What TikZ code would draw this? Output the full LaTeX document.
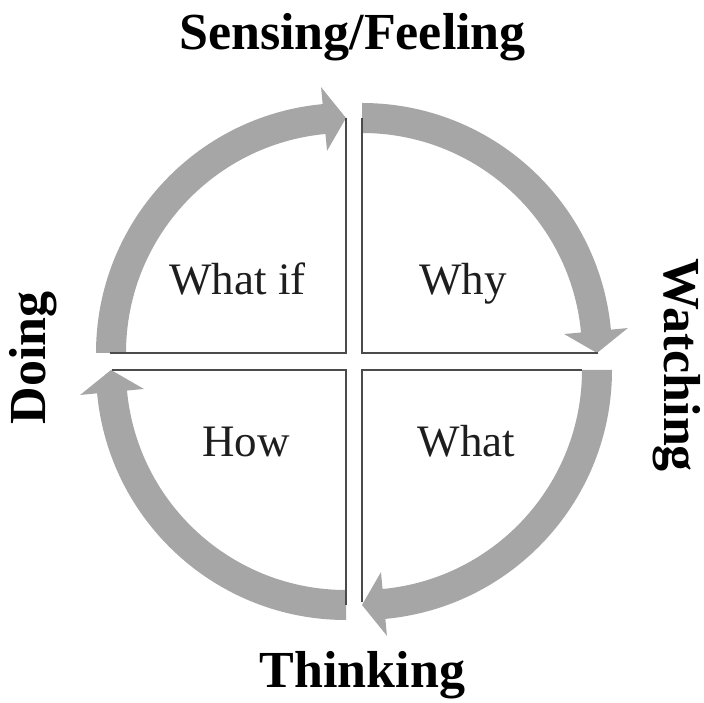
\documentclass[tikz,border=0pt]{standalone}
\usepackage{fontspec}
\setmainfont{Liberation Serif}
\definecolor{arrowgray}{RGB}{166,166,166}
\definecolor{linegray}{RGB}{75,75,75}
\definecolor{textgray}{RGB}{30,30,30}
\newcommand{\qarrow}[3]{%
  \begin{scope}[shift={#1}]
    \pgfmathsetmacro{\qb}{#3+5.36}
    \fill[arrowfill] (#2:250pt) arc[start angle=#2, end angle=\qb, radius=250pt]
      -- (\qb:267pt) -- (#3:235pt) -- (\qb:203pt) -- (\qb:220pt)
      arc[start angle=\qb, end angle=#2, radius=220pt] -- cycle;
  \end{scope}}
\begin{document}
\begin{tikzpicture}[x=1pt,y=1pt,
  arrowfill/.style={fill=arrowgray},
  quadline/.style={draw=linegray, line width=2.8pt},
  headtext/.style={font=\fontsize{52}{60}\selectfont\bfseries, text=black, inner sep=0pt, anchor=base},
  quadtext/.style={font=\fontsize{45}{54}\selectfont, text=textgray, inner sep=0pt, anchor=base}]
  \useasboundingbox[fill=white] (0,0) rectangle (704,702);
  % quadrant corners
  \coordinate (tl) at (346,349);
  \coordinate (tr) at (362,349);
  \coordinate (br) at (362,332);
  \coordinate (bl) at (346,332);
  % circular arrows
  \qarrow{(346,349)}{180}{90}
  \qarrow{(362,349)}{90}{0}
  \qarrow{(362,332)}{0}{-90}
  \qarrow{(346,332)}{-90}{-180}
  % quadrant lines
  \coordinate (tlTop) at (346,584);
  \coordinate (tlLeft) at (110,349);
  \coordinate (trTop) at (362,584);
  \coordinate (trRight) at (598,349);
  \coordinate (brRight) at (582,332);
  \coordinate (brBottom) at (362,100);
  \coordinate (blBottom) at (346,97);
  \coordinate (blLeft) at (112,332);
  \draw[quadline] (tlTop) -- (tl) -- (tlLeft);
  \draw[quadline] (trTop) -- (tr) -- (trRight);
  \draw[quadline] (brRight) -- (br) -- (brBottom);
  \draw[quadline] (blBottom) -- (bl) -- (blLeft);
  % outer labels
  \node[headtext] (sensing) at (352.5,652) {Sensing/Feeling};
  \node[headtext] (thinking) at (362.5,15) {Thinking};
  \node[headtext, rotate=90] (doing) at (45,344) {Doing};
  \node[headtext, rotate=-90] (watching) at (664,337) {Watching};
  % quadrant labels
  \node[quadtext] (whatif) at (237.5,407) {What if};
  \node[quadtext] (why) at (463,407) {Why};
  \node[quadtext] (how) at (246,245) {How};
  \node[quadtext] (what) at (466.5,245) {What};
\end{tikzpicture}
\end{document}
